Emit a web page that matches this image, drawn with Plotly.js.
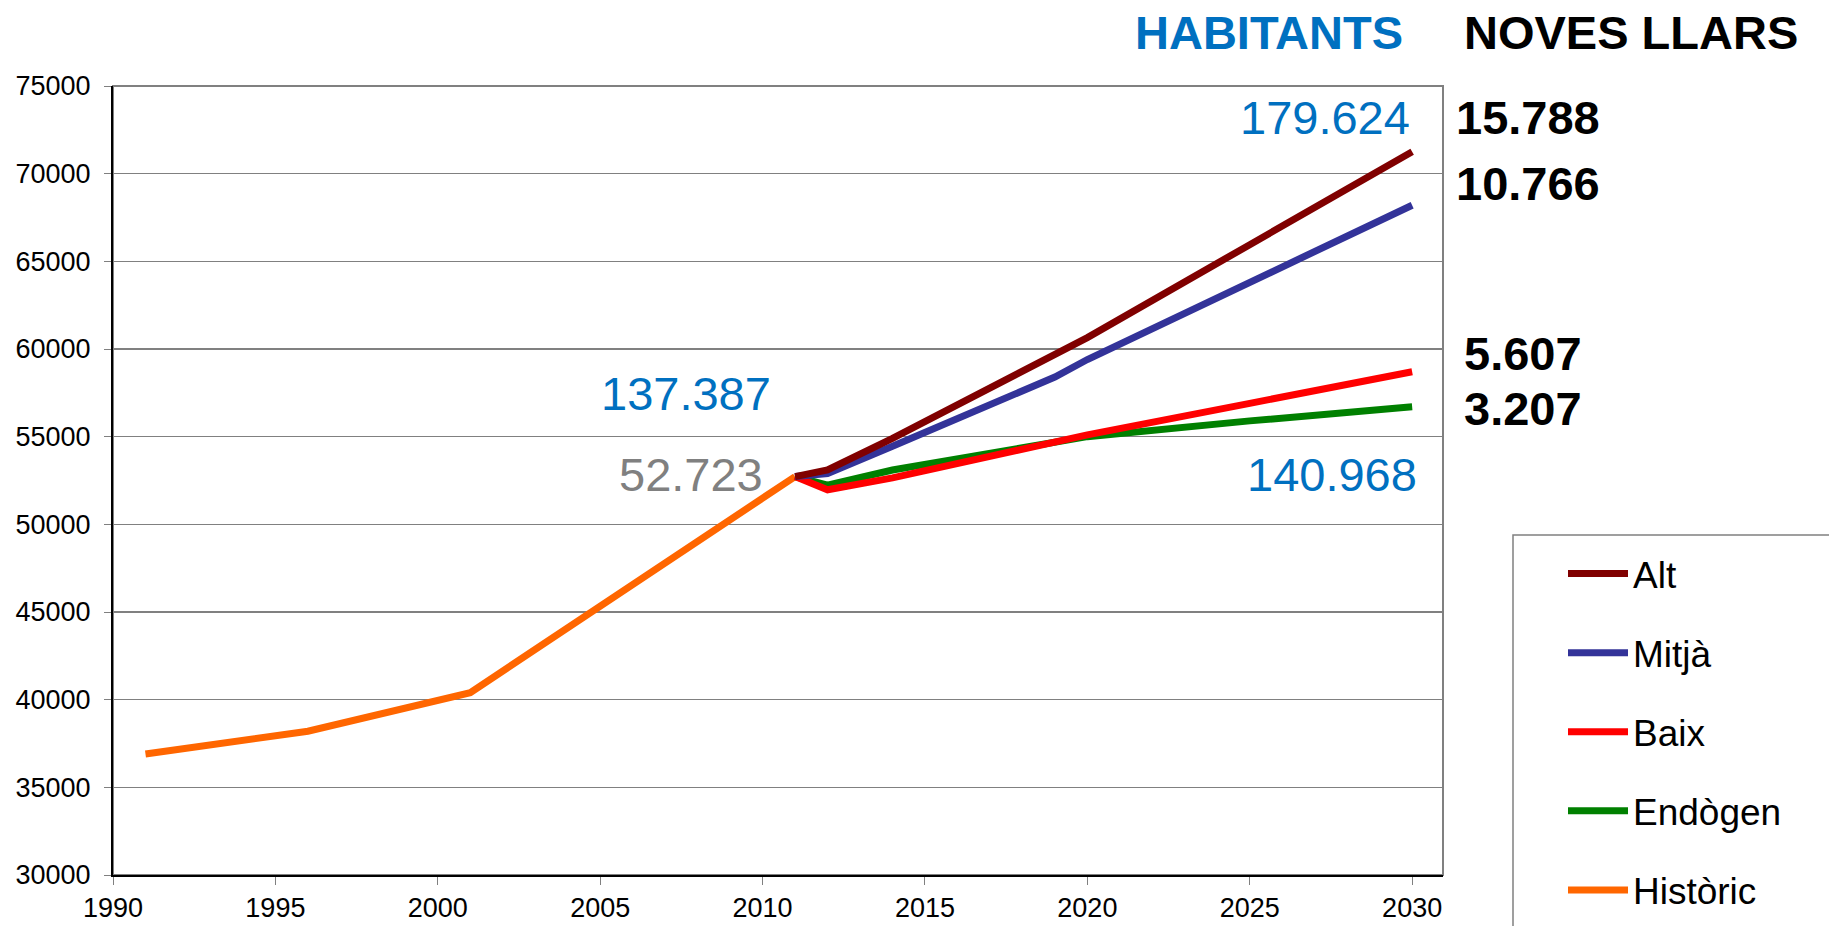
<!DOCTYPE html>
<html>
<head>
<meta charset="utf-8">
<script src="https://cdn.plot.ly/plotly-3.0.1.min.js"></script>
<style>html,body{margin:0;padding:0;background:#fff;}#chart{width:1829px;height:926px;}</style>
</head>
<body>
<div id="chart"></div>
<script>
// Data
var histYears = [1991, 1996, 2001, 2011];
var histValues = [36900, 38200, 40400, 52723];

var projYears = [2011, 2012, 2014, 2019, 2020, 2025, 2030];
var altValues = [52723, 53100, 54900, 59650, 60650, 65950, 71250];
var mitjaValues = [52723, 52900, 54450, 58400, 59400, 63780, 68200];
var baixValues = [52723, 51970, 52650, 54650, 55100, 56900, 58700];
var endogenValues = [52723, 52230, 53100, 54700, 55000, 55900, 56700];

var seriesNames = ["Alt", "Mitjà", "Baix", "Endògen", "Històric"];
var xTickVals = [1990, 1995, 2000, 2005, 2010, 2015, 2020, 2025, 2030];
var yTickVals = [30000, 35000, 40000, 45000, 50000, 55000, 60000, 65000, 70000, 75000];

var colors = ["#800000", "#333399", "#FF0000", "#008000", "#FF6600"];
var FONT = "Liberation Sans, Arial, sans-serif";

// plot area in pixels: left 113, right 1443, top 86, bottom 875
var W = 1829, H = 926;
var L = 113, R = 1443, T = 86, B = 875;
function px(x) { return (x - L) / (R - L); }
function py(y) { return (B - y) / (B - T); }

var seriesY = [altValues, mitjaValues, baixValues, endogenValues];
var traces = [];
for (var i = 0; i < 4; i++) {
  traces.push({
    x: projYears, y: seriesY[i], type: "scatter", mode: "lines",
    name: seriesNames[i], legendgroup: "g" + i,
    line: {color: colors[i], width: 7}
  });
}
traces.push({
  x: histYears, y: histValues, type: "scatter", mode: "lines",
  name: seriesNames[4], legendgroup: "g4",
  line: {color: colors[4], width: 7}
});
// draw historic on top at the join, keep legend order
var data = [traces[4], traces[3], traces[2], traces[1], traces[0]];
for (var k = 0; k < data.length; k++) {
  data[k].legendrank = seriesNames.indexOf(data[k].name) + 1;
}

var blue = "#0070C0";
function ann(text, x, y, xanchor, color, bold) {
  return {
    text: bold ? "<b>" + text + "</b>" : text,
    xref: "paper", yref: "paper", x: x, y: y,
    xanchor: xanchor, yanchor: "middle", showarrow: false,
    font: {family: FONT, size: 47, color: color}
  };
}

var layout = {
  width: W, height: H,
  margin: {l: L, r: W - R, t: T, b: H - B, pad: 0, autoexpand: false},
  paper_bgcolor: "#ffffff", plot_bgcolor: "#ffffff",
  showlegend: true,
  legend: {
    xref: "container", yref: "container",
    x: 1563 / W, y: 1 - 543 / H, xanchor: "left", yanchor: "top",
    font: {family: FONT, size: 37, color: "#000"},
    bgcolor: "rgba(0,0,0,0)", borderwidth: 0,
    traceorder: "grouped", tracegroupgap: 28,
    itemwidth: 60
  },
  xaxis: {
    range: [1990, 2030.95], tickvals: xTickVals,
    ticks: "outside", ticklen: 8, tickcolor: "#808080", tickwidth: 1,
    showline: true, linecolor: "#000", linewidth: 2,
    showgrid: false, zeroline: false, automargin: false,
    tickfont: {family: FONT, size: 27, color: "#000"},
    ticklabelstandoff: 0, fixedrange: true
  },
  yaxis: {
    range: [30000, 75000], tickvals: yTickVals,
    ticks: "outside", ticklen: 7, tickcolor: "#808080", tickwidth: 1,
    showline: true, linecolor: "#000", linewidth: 2,
    showgrid: true, gridcolor: "#808080", gridwidth: 1.2,
    zeroline: false, tickformat: "d", automargin: false,
    tickfont: {family: FONT, size: 27, color: "#000"},
    ticklabelstandoff: 8, fixedrange: true
  },
  shapes: [
    {type: "rect", xref: "paper", yref: "paper", x0: 0, x1: 1, y0: 0, y1: 1,
     line: {color: "#808080", width: 2}, fillcolor: "rgba(0,0,0,0)", layer: "below"},
    {type: "rect", xref: "paper", yref: "paper", x0: px(1513), x1: px(1845), y0: py(945), y1: py(535),
     line: {color: "#808080", width: 1.5}, fillcolor: "rgba(0,0,0,0)"}
  ],
  annotations: [
    ann("HABITANTS", px(1269), py(33), "center", blue, true),
    ann("NOVES LLARS", px(1631), py(33), "center", "#000", true),
    ann("179.624", px(1412), py(118), "right", blue, false),
    ann("137.387", px(773), py(393), "right", blue, false),
    ann("52.723", px(765), py(475), "right", "#808080", false),
    ann("140.968", px(1419), py(474), "right", blue, false),
    ann("15.788", px(1454), py(118), "left", "#000", true),
    ann("10.766", px(1454), py(183), "left", "#000", true),
    ann("5.607", px(1462), py(353), "left", "#000", true),
    ann("3.207", px(1462), py(408), "left", "#000", true)
  ]
};

Plotly.newPlot("chart", data, layout, {displayModeBar: false, staticPlot: true});
</script>
</body>
</html>
